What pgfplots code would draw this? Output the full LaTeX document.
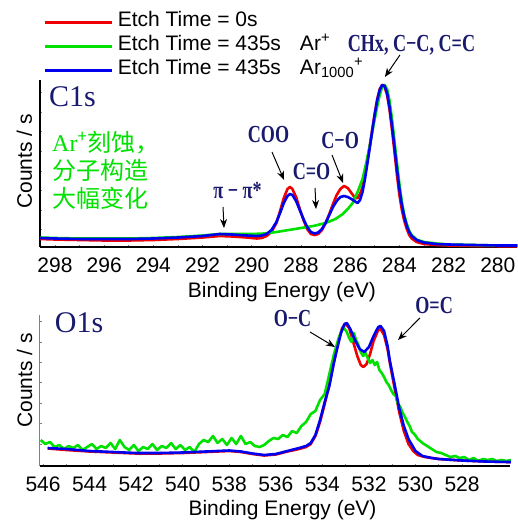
\documentclass[border=0pt]{standalone}
\usepackage{pgfplots}
\pgfplotsset{compat=1.18}
\usetikzlibrary{arrows.meta}
\usepackage{fontspec}
\setmainfont{Liberation Sans}
\newfontfamily\labfont[FakeStretch=0.74]{Liberation Serif Bold}
\newfontfamily\bigfont{Liberation Serif}
\newfontfamily\cjk{Noto Sans CJK SC}
\definecolor{navy}{RGB}{25,25,110}
\definecolor{cred}{RGB}{240,0,0}
\definecolor{cgreen}{RGB}{0,225,0}
\definecolor{cblue}{RGB}{0,0,240}

\tikzset{
  arr/.style={-{Stealth[length=9pt,width=7pt]}, line width=1pt, black},
  lab/.style={text=navy, inner sep=0pt, font=\labfont\fontsize{24.5}{24.5}\selectfont},
}
\pgfplotsset{
  common/.style={
    scale only axis, x dir=reverse, clip=false,
    axis x line*=bottom, axis y line*=left,
    axis line style={-, line width=1.3pt, black},
    /pgf/number format/assume math mode=true,
    tick label style={font=\fontsize{21}{21}\selectfont},
    xticklabel style={inner sep=0pt, yshift=-11pt},
    tick align=inside, major tick length=2.5pt, minor tick length=2.5pt,
    tick style={gray, line width=0.7pt},
    minor x tick num=1,
    yticklabels={},
    xlabel={Binding Energy (eV)}, ylabel={Counts / s},
    label style={font=\fontsize{21}{21}\selectfont},
    every axis plot/.append style={line width=2.6pt, line join=round},
  },
}

\begin{document}
\begin{tikzpicture}
\useasboundingbox (0,0) rectangle (517pt,-522pt);

% ---------------- C1s ----------------
\begin{axis}[common,
  at={(40pt,-247pt)}, anchor=south west, width=477pt, height=167pt,
  xmin=279.22, xmax=298.61, ymin=0, ymax=167,
  xtick={280,282,...,298},
  ytick={17.2,36.8,...,154.4},
  xlabel style={at={(axis description cs:0.507,0)}, anchor=base, yshift=-50pt},
  ylabel style={at={(axis description cs:-0.0168,0.512)}, anchor=base},
  legend style={at={(axis description cs:0.0063,1.419)}, anchor=north west,
    draw=none, fill=none, inner sep=0pt, row sep=0pt, column sep=5pt,
    font=\fontsize{21}{21}\selectfont,
    nodes={inner sep=0pt, text height=16pt, text depth=8pt}},
  legend cell align=left,
  legend image code/.code={\draw[#1, line width=2.6pt] (0pt,0pt) -- (67pt,0pt);},
]
\addplot[cred] coordinates {(298.6,8)(298,7.5)(297,7)(296,6.5)(295,6.5)(294,7)(293,8)(292,9.5)(291.3,11)(290.8,10.5)(290.2,9.5)(289.8,8.5)(289.6,9)(289.4,11)(289.2,15)(289.0,24)(288.85,36)(288.7,49)(288.55,58)(288.45,60)(288.35,58)(288.2,50)(288.05,38)(287.9,27)(287.75,18)(287.6,13)(287.45,12)(287.3,13)(287.15,17)(287.0,24)(286.85,33)(286.7,43)(286.55,52)(286.4,58)(286.25,61)(286.1,59)(285.95,54)(285.8,49)(285.7,49)(285.6,53)(285.5,60)(285.4,72)(285.3,86)(285.2,102)(285.1,118)(285.0,134)(284.9,148)(284.8,158)(284.7,162)(284.6,160)(284.5,152)(284.4,137)(284.3,117)(284.2,95)(284.1,72)(284.0,52)(283.9,37)(283.8,26)(283.7,18)(283.6,12)(283.5,8.5)(283.3,5)(283.0,3)(282.5,2)(282,1.5)(281,1)(280,0.8)(279.2,0.8)};
\addlegendentry{Etch Time = 0s}
\addplot[cgreen] coordinates {(298.6,9.5)(298,9)(297,8.5)(296,8.5)(295,8.5)(294,9)(293,10)(292,11.5)(291.3,13)(290.5,13)(290,13)(289.5,13.5)(289,15)(288.5,17)(288,19)(287.5,21)(287,24)(286.6,28)(286.3,33)(286.1,38)(285.9,44)(285.7,55)(285.5,68)(285.35,84)(285.2,102)(285.05,122)(284.9,141)(284.8,152)(284.7,160)(284.6,162)(284.5,158)(284.4,146)(284.3,128)(284.2,106)(284.1,84)(284.0,63)(283.9,45)(283.8,32)(283.7,23)(283.6,16)(283.5,12)(283.3,7.5)(283.0,5)(282.5,3.5)(282,2.5)(281,2)(280,1.5)(279.2,1.5)};
\addlegendentry{Etch Time = 435s\hspace*{19pt}Ar\textsuperscript{+}}
\addplot[cblue] coordinates {(298.6,9)(298,8.5)(297,8)(296,8)(295,8)(294,8.5)(293,9.5)(292,11)(291.3,13)(290.8,12.5)(290.2,11.5)(289.8,11)(289.6,11.5)(289.4,13)(289.2,17)(289.0,25)(288.85,34)(288.7,44)(288.55,51)(288.45,53)(288.35,52)(288.2,46)(288.05,37)(287.9,28)(287.75,20)(287.6,15)(287.45,13.5)(287.3,14.5)(287.15,18)(287.0,24)(286.85,32)(286.7,40)(286.55,46)(286.4,50)(286.25,51)(286.1,50)(285.95,48)(285.8,45.5)(285.7,44)(285.6,47)(285.5,55)(285.4,68)(285.3,84)(285.2,100)(285.1,117)(285.0,133)(284.9,147)(284.8,157)(284.7,162)(284.6,161)(284.5,154)(284.4,140)(284.3,121)(284.2,100)(284.1,78)(284.0,58)(283.9,42)(283.8,30)(283.7,21)(283.6,15)(283.5,11)(283.3,7)(283.0,4.5)(282.5,3)(282,2.5)(281,2)(280,1.5)(279.2,1.5)};
\addlegendentry{Etch Time = 435s\hspace*{19pt}Ar\textsubscript{1000}\textsuperscript{+}}

\node[lab, font=\bigfont\fontsize{30}{30}\selectfont] at (axis cs:297.29,150) {C1s};
\node[anchor=west, align=left, inner sep=0pt, text=cgreen, font=\cjk\fontsize{24}{28}\selectfont] at (axis cs:298.12,77)
  {{\bigfont Ar}\textsuperscript{+}刻蚀，\\分子构造\\大幅变化};
\node[lab] at (axis cs:290.58,56) {π − π*};
\draw[arr] (axis cs:291.17,40) -- (axis cs:291.13,19);
\node[lab] at (axis cs:289.32,112) {COO};
\draw[arr] (axis cs:289.18,95) -- (axis cs:288.69,67);
\node[lab] at (axis cs:287.57,75.5) {C=O};
\draw[arr] (axis cs:287.43,59) -- (axis cs:287.39,38);
\node[lab] at (axis cs:286.41,106.5) {C−O};
\draw[arr] (axis cs:286.74,92) -- (axis cs:286.29,64);
\node[lab] at (axis cs:283.51,202) {CHx, C−C, C=C};
\draw[arr] (axis cs:283.98,192) -- (axis cs:284.59,170);
\end{axis}

% ---------------- O1s ----------------
\begin{axis}[common,
  at={(40pt,-466pt)}, anchor=south west, width=470pt, height=151pt,
  xmin=525.94, xmax=546.13, ymin=0, ymax=151,
  xtick={528,530,...,546},
  ytick={22,42.4,...,144.4},
  xlabel style={at={(axis description cs:0.516,0)}, anchor=base, yshift=-49pt},
  ylabel style={at={(axis description cs:-0.017,0.566)}, anchor=base},
  y axis line style={gray, line width=1pt},
]
\addplot[cred] coordinates {(545.8,17.5)(545,16)(544,14.5)(543,13.5)(542,12.5)(541,12.5)(540,13)(539,14)(538,15)(537.5,14)(537,12)(536.5,10.5)(536,11.5)(535.5,14.5)(535,17)(534.7,19)(534.5,22)(534.3,30)(534.1,44)(533.9,62)(533.7,82)(533.5,104)(533.3,126)(533.15,138)(533.0,142)(532.85,138)(532.7,126)(532.5,110)(532.35,101)(532.24,99)(532.1,102)(531.95,112)(531.8,125)(531.6,136)(531.5,137)(531.35,131)(531.2,117)(531.1,103)(530.9,78)(530.7,54)(530.5,35)(530.3,22)(530.1,15)(529.9,11)(529.6,9)(529.3,8)(529,7)(528,5.5)(527,4.5)(526,4)(525.9,4)};
\addplot[cgreen] coordinates {(546.1,26)(545.9,22)(545.7,24)(545.5,19)(545.3,21)(545.1,17)(544.9,20)(544.7,18)(544.5,21)(544.3,16)(544.1,19)(543.9,22)(543.7,17)(543.5,20)(543.3,18)(543.1,23)(542.9,17)(542.7,26)(542.5,19)(542.3,16)(542.1,21)(541.9,15)(541.7,19)(541.5,17)(541.3,22)(541.1,16)(540.9,20)(540.7,18)(540.5,23)(540.3,17)(540.1,21)(539.9,16)(539.7,19)(539.5,14)(539.3,22)(539.1,26)(538.9,24)(538.7,30)(538.5,23)(538.3,27)(538.1,21)(537.9,28)(537.7,22)(537.5,30)(537.3,22)(537.1,24)(536.9,20)(536.7,19)(536.5,21)(536.3,25)(536.1,28)(535.9,27)(535.7,31)(535.5,29)(535.3,35)(535.1,33)(534.9,40)(534.7,44)(534.5,52)(534.3,55)(534.1,66)(533.9,72)(533.7,92)(533.5,112)(533.3,128)(533.1,139)(532.95,134)(532.85,128)(532.75,124)(532.65,133)(532.55,126)(532.45,121)(532.35,114)(532.25,110)(532.15,113)(532.05,108)(531.95,103)(531.85,106)(531.75,101)(531.65,104)(531.55,96)(531.45,93)(531.35,89)(531.25,84)(531.15,81)(531.05,76)(530.95,72)(530.85,70)(530.75,62)(530.65,59)(530.55,53)(530.45,49)(530.35,44)(530.25,40)(530.15,34)(530.05,32)(529.9,27)(529.7,23)(529.5,20)(529.3,17)(529.1,14)(528.9,13)(528.7,11)(528.5,9)(528.3,10)(528.1,8)(527.9,9)(527.7,6)(527.5,8)(527.3,5)(527.1,7)(526.9,6)(526.7,7)(526.5,5)(526.3,6)(526.1,5)(525.9,6)};
\addplot[cblue] coordinates {(545.8,18)(545,17)(544,15)(543,14)(542,13)(541,13)(540,13.5)(539,14.5)(538,15.5)(537.5,14.5)(537,12.5)(536.5,11)(536,12)(535.5,15)(535,18)(534.7,20)(534.5,23)(534.3,31)(534.1,46)(533.9,64)(533.7,80)(533.5,104)(533.38,116)(533.2,133)(533.05,142)(532.95,143)(532.8,137)(532.6,126)(532.4,117)(532.2,114)(532.0,119)(531.8,130)(531.6,139)(531.5,140)(531.35,135)(531.2,120)(531.1,105)(530.9,82)(530.7,58)(530.5,40)(530.3,27)(530.15,21)(530.0,15)(529.7,10)(529.3,8)(529,7)(528,5.5)(527,4.5)(526,4)(525.9,4)};

\node[lab, font=\bigfont\fontsize{30}{30}\selectfont] at (axis cs:544.45,143.5) {O1s};
\node[lab] at (axis cs:535.28,147.5) {O−C};
\draw[arr] (axis cs:534.53,134) -- (axis cs:533.46,119);
\node[lab] at (axis cs:529.2,160) {O=C};
\draw[arr] (axis cs:529.81,148) -- (axis cs:530.75,126);
\end{axis}
\end{tikzpicture}
\end{document}
